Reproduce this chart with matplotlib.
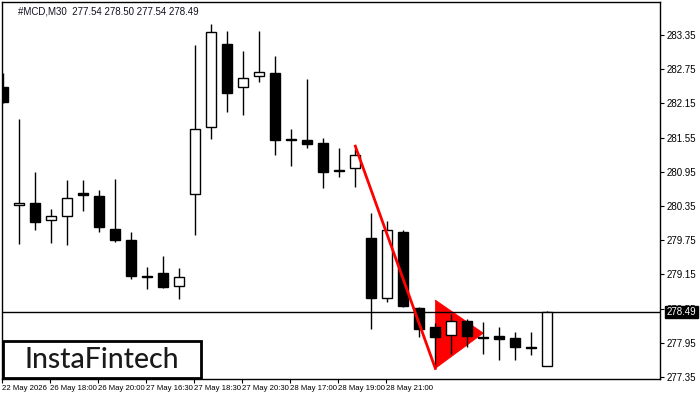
import matplotlib
matplotlib.use("Agg")
import matplotlib.pyplot as plt
from matplotlib.patches import Polygon, Rectangle
from matplotlib import font_manager as fm

# ---- data ----
opens  = [282.44, 280.36, 280.40, 280.10, 280.17, 280.58, 280.53, 279.95, 279.75, 279.12,
          279.17, 278.95, 280.56, 281.73, 283.19, 282.44, 282.63, 282.68, 281.52, 281.50,
          281.46, 280.96, 281.01, 279.78, 278.73, 279.89, 278.56, 278.22, 278.08, 278.33,
          278.05, 278.07, 278.03, 277.87, 277.54]
highs  = [282.68, 281.88, 280.95, 280.30, 280.81, 280.81, 280.63, 280.82, 279.89, 279.28,
          279.47, 279.27, 283.17, 283.54, 283.42, 283.07, 283.42, 282.98, 281.70, 282.58,
          281.54, 281.37, 281.35, 280.22, 280.09, 279.93, 278.58, 278.29, 278.46, 278.37,
          278.31, 278.23, 278.14, 278.14, 278.50]
lows   = [282.16, 279.69, 279.93, 279.70, 279.67, 280.26, 279.90, 279.71, 279.07, 278.90,
          278.92, 278.71, 279.84, 281.52, 282.00, 281.95, 282.53, 281.24, 281.06, 281.36,
          280.67, 280.86, 280.69, 278.20, 278.67, 278.58, 278.05, 277.53, 277.75, 277.88,
          277.75, 277.65, 277.64, 277.74, 277.54]
closes = [282.17, 280.40, 280.07, 280.17, 280.49, 280.54, 279.99, 279.76, 279.12, 279.10,
          278.93, 279.10, 281.70, 283.40, 282.34, 282.59, 282.70, 281.50, 281.51, 281.43,
          280.95, 280.99, 281.24, 278.74, 279.93, 278.60, 278.20, 278.06, 278.33, 278.07,
          278.04, 278.02, 277.88, 277.86, 278.49]

pole_x = [22, 27]
pole_y = [281.40, 277.50]
pennant_x = [27, 27, 30]
pennant_y = [278.70, 277.50, 278.12]

last_price = 278.49
title_text = "#MCD,M30  277.54 278.50 277.54 278.49"

ytick_vals = [277.35, 277.95, 278.55, 279.15, 279.75, 280.35, 280.95, 281.55, 282.15, 282.75, 283.35]
xtick_idx = [0, 3, 6, 9, 12, 15, 18, 21, 24]
xtick_labels = ["22 May 2026", "26 May 18:00", "26 May 20:00", "27 May 16:30", "27 May 18:30",
                "27 May 20:30", "28 May 17:00", "28 May 19:00", "28 May 21:00"]

# ---- figure ----
names = {f.name for f in fm.fontManager.ttflist}
narrow = 'Liberation Sans Narrow' if 'Liberation Sans Narrow' in names else 'Liberation Sans'
xsize = 7 if narrow == 'Liberation Sans Narrow' else 5.6

plt.rcParams['font.family'] = ['Liberation Sans', 'DejaVu Sans']
fig = plt.figure(figsize=(7, 4), dpi=100)
L, R, T, B = 2, 660, 2, 379
ax = fig.add_axes([L / 700, 1 - B / 400, (R - L) / 700, (B - T) / 400])

bw = 0.62
for i, (o, h, l, c) in enumerate(zip(opens, highs, lows, closes)):
    ax.vlines(i, l, h, color='black', lw=1, zorder=3)
    bottom = min(o, c)
    height = max(abs(c - o), 0.012)
    fc = 'white' if c > o else 'black'
    ax.add_patch(Rectangle((i - bw / 2, bottom), bw, height, facecolor=fc,
                           edgecolor='black', lw=1, zorder=4))

ax.add_patch(Polygon(list(zip(pennant_x, pennant_y)), closed=True, facecolor='#ff0000',
                     edgecolor='#ff0000', lw=0.5, zorder=2))
ax.plot(pole_x, pole_y, color='#ff0000', lw=2, zorder=5)
ax.axhline(last_price, color='black', lw=1, zorder=3.5)

ax.set_xlim(-0.08, 41.04)
ax.set_ylim(277.315, 283.929)

ax.yaxis.tick_right()
ax.set_yticks(ytick_vals)
ax.set_yticklabels([f"{v:.2f}" for v in ytick_vals], fontsize=7)
ax.tick_params(axis='y', length=3, width=0.8, pad=2, colors='black')
ax.set_xticks([x - 0.08 for x in xtick_idx])
ax.set_xticklabels(xtick_labels, fontsize=xsize, ha='left', family=narrow)
ax.tick_params(axis='x', length=3, width=0.8, pad=1.5)
for s in ax.spines.values():
    s.set_linewidth(1)
    s.set_color('black')

ax.annotate(f"{last_price:.2f}", xy=(1.0, last_price), xycoords=('axes fraction', 'data'),
            xytext=(5, 0), textcoords='offset points', va='center', ha='left',
            fontsize=7, color='white', zorder=10, annotation_clip=False,
            bbox=dict(boxstyle='square,pad=0.15', fc='black', ec='black'))

fig.text(18 / 700, 1 - 11 / 400, title_text, fontsize=7, color='#101020', va='center', ha='left')

# logo
fig.patches.append(Rectangle((3 / 700, 1 - 378 / 400), 198 / 700, 37 / 400,
                             transform=fig.transFigure, facecolor='white',
                             edgecolor='black', lw=2, zorder=20))
fig.text(102 / 700, 1 - 359.5 / 400, "InstaFintech", fontsize=20.5, family='Lato',
         weight='medium', color='#1a1a1a', ha='center', va='center', zorder=21)

fig.savefig("out.png", dpi=100)
